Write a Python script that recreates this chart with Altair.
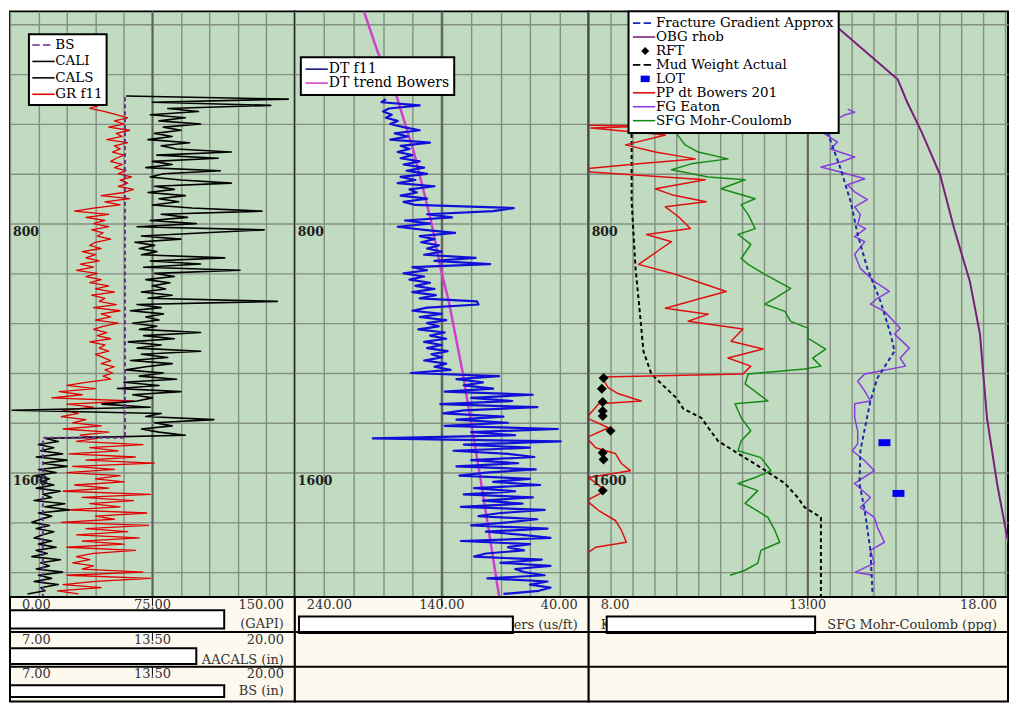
import altair as alt
import pandas as pd

# ------------------------------------------------------------------ data
DEPTH_DOMAIN = [118, 2000]
DEPTH_GRID = [160, 320, 480, 640, 800, 960, 1120, 1280, 1440, 1600, 1760, 1920]
DEPTH_LABELS = [800, 1600]

# ---- track 1 : gamma ray / calipers / bit size
GR_DOMAIN = [0, 150]
GR_GRID = [0, 15, 30, 45, 60, 75, 90, 105, 120, 135, 150]
GR_TICKS = [0, 75, 150]
CAL_DOMAIN = [7, 20]
CAL_TICKS = [7, 13.5, 20]
BS_TICKS = [7, 13.5, 20]

GR_START, GR_STEP = 420, 10
GR_VALUES = [47, 42, 50, 56, 62, 55, 60, 52,
             63, 56, 59, 51, 62, 55, 58, 54, 60, 56,
             53, 59, 55, 61, 57, 64, 58, 62, 57, 65,
             60, 48, 63, 50, 58, 44, 34, 52, 40, 50,
             44, 52, 43, 49, 46, 53, 45, 42, 48, 38,
             45, 40, 47, 37, 44, 35, 46, 40, 48, 42,
             52, 45, 55, 43, 50, 47, 56, 44, 58, 48,
             53, 45, 57, 49, 44, 51, 46, 53, 42, 50,
             47, 52, 45, 49, 53, 48, 55, 50, 54, 49,
             53, 40, 30, 45, 26, 38, 22, 65, 30, 44,
             28, 36, 27, 40, 33, 48, 28, 52, 37, 46,
             35, 70, 42, 57, 31, 66, 40, 76, 33, 55,
             30, 58, 45, 60, 34, 52, 28, 74, 38, 65,
             42, 58, 30, 72, 45, 55, 27, 73, 40, 62,
             35, 68, 38, 60, 30, 66, 44, 35, 42, 33,
             44, 38, 70, 30, 74, 45, 28, 48, 25, 36]

CALS_START, CALS_STEP = 390, 10
CALS_VALUES = [12.3, 19.7, 13.5, 18.9, 14.2, 15.6, 13.4, 15.0, 13.8, 15.7,
               14.0, 14.8, 13.6, 14.4, 13.3, 15.2, 13.9, 14.6, 17.1, 13.7,
               16.5, 13.5, 14.4, 13.2, 16.6, 14.0, 13.4, 14.8, 17.1, 13.6,
               14.5, 13.3, 15.0, 13.8, 14.7, 13.5, 15.3, 18.5, 13.9, 15.1,
               13.4, 15.5, 12.8, 18.6, 15.7, 13.0, 14.8, 12.7, 13.6, 12.9,
               13.7, 13.0, 16.8, 13.4, 15.7, 13.1, 17.5, 13.6, 14.5, 13.2,
               14.3, 13.5, 14.1, 13.0, 14.4, 13.3, 19.2, 12.8, 13.9, 12.5,
               14.0, 13.2, 13.8, 12.6, 13.7, 12.9, 15.7, 13.1, 14.5, 12.4,
               13.9, 12.8, 15.7, 13.0, 14.2, 12.5, 14.4, 13.2, 12.3, 14.0,
               12.9, 14.6, 12.2, 13.8, 11.9, 14.8, 12.6, 13.5, 12.8, 11.2,
               13.4, 7.1, 13.9, 13.2, 16.3, 13.6, 14.4, 13.0, 13.8, 15.0,
               8.6]

CALI_START, CALI_STEP = 1490, 10
CALI_VALUES = [8.6, 9.2, 8.3, 9.0, 8.4, 9.4, 8.2, 9.6, 8.5, 9.6,
               8.3, 9.1, 8.1, 8.8, 8.4, 9.0, 8.2, 9.3, 8.5, 8.9,
               8.1, 9.5, 8.6, 9.7, 8.3, 8.9, 8.4, 8.0, 8.8, 8.2,
               9.0, 8.5, 8.1, 8.9, 8.3, 9.1, 8.2, 8.7, 8.0, 9.3,
               8.4, 8.8, 8.2, 9.4, 8.3, 8.9, 8.1, 9.2, 8.4, 8.6,
               7.8]

BS_DEPTHS = [394, 1488, 1488, 2000]
BS_VALUES = [12.25, 12.25, 8.5, 8.5]

# ---- track 2 : sonic
DT_DOMAIN = [40, 240]
DT_GRID = [40, 60, 80, 100, 120, 140, 160, 180, 200, 220, 240]
DT_TICKS = [240, 140, 40]
DT_START, DT_STEP = 400, 10
DT_VALUES = [178, 181, 155, 176, 180, 174, 178, 170, 175, 166,
             155, 172, 163, 175, 148, 168, 162, 170, 160, 168,
             155, 166, 152, 164, 150, 168, 158, 170, 145, 162,
             157, 168, 150, 166, 158, 91, 105, 150, 133, 165,
             148, 170, 152, 131, 155, 145, 154, 142, 150, 140,
             152, 117, 145, 107, 160, 150, 166, 152, 162, 148,
             158, 145, 160, 144, 155, 116, 115, 150, 160, 140,
             155, 137, 150, 142, 156, 138, 148, 137, 152, 140,
             150, 136, 147, 140, 152, 137, 145, 134, 161, 101,
             130, 112, 125, 105, 138, 78, 120, 92, 141, 75,
             125, 139, 98, 130, 95, 138, 61, 120, 90, 187,
             59, 125, 80, 132, 95, 77, 120, 88, 130, 76,
             110, 128, 80, 105, 73, 118, 90, 125, 78, 112,
             85, 127, 70, 100, 115, 75, 95, 120, 68, 110,
             85, 66, 127, 80, 95, 84, 110, 118, 72, 100,
             66, 90, 84, 70, 109, 68, 80, 66, 74, 98]
DTN_DEPTHS = [118, 250, 362, 570, 787, 960, 1050, 1280, 1587, 1786, 2000]
DTN_VALUES = [193.0, 183.5, 172.6, 159.0, 147.5, 140.0, 135.2, 125.7, 114.8, 108.0, 100.9]

# ---- track 3 : pressures (ppg); the picture is cut just short of 18
PG_DOMAIN = [8, 17.57]
PG_GRID = [8, 8.5, 9, 9.5, 10, 10.5, 11, 11.5, 12, 12.5, 13,
           13.5, 14, 14.5, 15, 15.5, 16, 16.5, 17, 17.5]
PG_TICKS = [8, 13, 18]

OBG_DEPTHS = [118, 170, 336, 410, 506, 643, 816, 986, 1155, 1424, 1635, 1808, 1898, 2000]
OBG_VALUES = [13.15, 13.68, 15.05, 15.27, 15.6, 16.02, 16.34, 16.70, 16.93, 17.09, 17.32, 17.55, 17.73, 17.93]

FGA_DEPTHS = [506, 624, 730, 835, 944, 1050, 1155, 1210, 1296, 1370, 1530, 1635, 1722, 1850, 1994]
FGA_VALUES = [13.45, 13.75, 13.98, 14.14, 14.36, 14.66, 14.89, 14.98, 14.59, 14.43, 14.20, 14.18, 14.30, 14.43, 14.48]

FGE_DEPTHS = [432, 442, 451, 458, 496, 509, 538, 560, 586, 602,
              618, 634, 656, 675, 698, 723, 746, 771, 803, 816,
              842, 858, 899, 944, 986, 1018, 1040, 1059, 1082, 1136,
              1155, 1200, 1232, 1258, 1283, 1306, 1338, 1370, 1379, 1424,
              1466, 1507, 1530, 1562, 1594, 1635, 1680, 1712, 1744, 1776,
              1824, 1850, 1891, 1920, 1930]
FGE_VALUES = [13.91, 14.07, 13.84, 13.75, 13.16, 13.36, 13.68, 13.52, 14.07, 13.75,
              13.30, 13.75, 14.30, 13.91, 14.07, 14.36, 14.07, 14.20, 14.14, 14.32,
              14.07, 14.30, 14.07, 14.20, 14.52, 14.86, 14.59, 14.43, 14.75, 15.11,
              14.98, 15.32, 15.11, 15.23, 14.30, 14.14, 14.30, 14.43, 14.07, 14.07,
              14.14, 14.14, 14.02, 14.30, 14.52, 14.07, 14.43, 14.20, 14.52, 14.59,
              14.75, 14.43, 14.52, 14.09, 14.48]

PP_DEPTHS = [484, 486, 493, 515, 547, 570, 592, 608, 624, 634, 659,
             688, 707, 730, 746, 778, 816, 835, 858, 880, 931,
             963, 1018, 1040, 1072, 1091, 1114, 1139, 1178, 1203, 1232,
             1258, 1283, 1293, 1328, 1347, 1370, 1379, 1424, 1456, 1488,
             1520, 1539, 1571, 1594, 1616, 1658, 1690, 1722, 1754, 1786,
             1824, 1840, 1866]
PP_VALUES = [7.9, 9.48, 8.05, 9.75, 8.84, 9.52, 10.43, 9.14, 7.9, 8.05, 10.66,
             9.52, 9.89, 10.68, 9.75, 10.05, 10.32, 9.32, 9.89, 9.66, 9.14,
             9.98, 11.14, 10.57, 9.75, 10.73, 10.27, 11.52, 11.25, 11.98, 11.18,
             11.70, 11.52, 8.30, 8.45, 8.68, 9.20, 8.23, 7.95, 8.45, 7.95,
             8.16, 8.61, 8.75, 8.95, 8.0, 8.39, 7.95, 8.23, 8.61, 8.75,
             8.86, 8.16, 7.9]

SFG_DEPTHS = [496, 506, 547, 570, 592, 608, 627, 650, 659, 688,
              720, 739, 771, 816, 835, 867, 912, 931, 963, 1008,
              1040, 1059, 1082, 1114, 1136, 1168, 1203, 1232, 1258, 1267,
              1283, 1315, 1370, 1379, 1424, 1466, 1498, 1530, 1552, 1594,
              1616, 1635, 1658, 1699, 1744, 1786, 1824, 1850, 1891, 1914,
              1930]
SFG_VALUES = [9.52, 9.98, 10.20, 10.50, 11.18, 10.34, 9.89, 10.73, 11.57, 11.02,
              11.80, 11.48, 11.64, 11.80, 11.41, 11.70, 11.48, 11.64, 12.02, 12.61,
              12.25, 12.02, 12.48, 12.61, 13.0, 13.0, 13.41, 13.11, 13.30, 12.93,
              11.64, 11.57, 12.09, 11.34, 11.48, 11.70, 11.48, 11.41, 11.93, 12.16,
              11.80, 11.41, 11.86, 11.57, 12.09, 12.25, 12.36, 11.93, 11.86, 11.57,
              11.23]

MW_DEPTHS = [490, 730, 944, 1104, 1210, 1283, 1315, 1360, 1395, 1424,
             1456, 1498, 1539, 1584, 1635, 1680, 1712, 1744, 2000]
MW_VALUES = [8.98, 8.98, 9.07, 9.18, 9.25, 9.43, 9.66, 10.0, 10.16, 10.57,
             10.73, 10.95, 11.41, 11.93, 12.48, 12.77, 12.93, 13.30, 13.30]

RFT_DEPTHS = [1296, 1331, 1373, 1402, 1418, 1466, 1536, 1558, 1658]
RFT_VALUES = [8.34, 8.30, 8.32, 8.32, 8.32, 8.50, 8.32, 8.34, 8.32]
LOT_DEPTHS = [1504, 1667]
LOT_VALUES = [14.75, 15.07]

# legends
T1_NAMES = ["BS", "CALI", "CALS", "GR f11"]
T2_NAMES = ["DT f11", "DT trend Bowers"]
T3_NAMES = ["Fracture Gradient Approx", "OBG rhob", "RFT", "Mud Weight Actual",
            "LOT", "PP dt Bowers 201", "FG Eaton", "SFG Mohr-Coulomb"]

# ------------------------------------------------------------------ styles
SERIF = "DejaVu Serif"
PLOT_BG = "#c1dbc1"
HEAD_BG = "#fdf9ee"
GRID_COLOR = "#838e83"
CENTER_COLOR = "#606060"
HEAD_TEXT = "#333333"
W1, W2, W3 = 286, 295, 421
PLOT_H = 588
HEAD_H = 105

C_BS = "#6a2f8f"
C_GR = "#e00000"
C_DT = "#1010d8"
C_DTN = "#d040d0"
C_FGA = "#1c2bb0"
C_OBG = "#7a1f7a"
C_LOT = "#0000ee"
C_PP = "#e01010"
C_FGE = "#8a3ae0"
C_SFG = "#168a16"

LINE_SYM = "M-1.9,-0.12L1.55,-0.12L1.55,0.12L-1.9,0.12Z"
DASH_SYM = ("M-1.9,-0.13L-0.75,-0.13L-0.75,0.13L-1.9,0.13Z "
            "M-0.25,-0.13L0.9,-0.13L0.9,0.13L-0.25,0.13Z")
DIAMOND_SYM = "M0,-0.62L0.62,0L0,0.62L-0.62,0Z"
SQUARE_SYM = "M-0.7,-0.5L0.7,-0.5L0.7,0.5L-0.7,0.5Z"
LOT_MARK = "M-1,-0.58L1,-0.58L1,0.58L-1,0.58Z"
RFT_MARK = "M0,-1L1,0L0,1L-1,0Z"


# ------------------------------------------------------------------ helpers
def seq(start, step, values):
    return [start + step * i for i in range(len(values))]


def yenc():
    return alt.Y("depth:Q",
                 scale=alt.Scale(domain=DEPTH_DOMAIN, reverse=True, nice=False, zero=False),
                 axis=alt.Axis(values=DEPTH_GRID, grid=True, gridColor=GRID_COLOR, gridWidth=1.4,
                               labels=False, ticks=False, domain=False, title=None,
                               orient="left", minExtent=0, maxExtent=0))


def xenc(field, domain, reverse=False, axis=None):
    return alt.X(f"{field}:Q",
                 scale=alt.Scale(domain=domain, reverse=reverse, nice=False, zero=False),
                 axis=axis)


def curve(depths, values, domain, color, width, reverse=False, dash=None):
    df = pd.DataFrame({"depth": depths, "value": values, "i": list(range(len(values)))})
    kw = dict(color=color, strokeWidth=width, clip=True, strokeJoin="round")
    if dash is not None:
        kw["strokeDash"] = dash
    return alt.Chart(df).mark_line(**kw).encode(
        x=xenc("value", domain, reverse), y=yenc(), order="i:Q")


def grid_layer(domain, grid_values, center, reverse=False):
    df = pd.DataFrame({"c": [center]})
    ax = alt.Axis(values=grid_values, grid=True, gridColor=GRID_COLOR, gridWidth=1.4,
                  labels=False, ticks=False, domain=False, title=None,
                  orient="bottom", minExtent=0, maxExtent=0)
    return alt.Chart(df).mark_rule(color=CENTER_COLOR, strokeWidth=2).encode(
        x=xenc("c", domain, reverse, ax))


def depth_label_layer(domain, left_value, reverse=False):
    df = pd.DataFrame({"depth": DEPTH_LABELS,
                       "label": [str(d) for d in DEPTH_LABELS],
                       "x": [left_value] * len(DEPTH_LABELS)})
    return alt.Chart(df).mark_text(align="left", baseline="top", dx=3, dy=2,
                                   font="DejaVu Serif", fontWeight="bold", fontSize=12.5,
                                   color="#1e1e1e").encode(
        x=xenc("x", domain, reverse), y=yenc(), text="label:N")


def legend_layer(names, colors, shapes, domain, lx, ly, font_size, row_pad, pad):
    df = pd.DataFrame({"series": names, "v": [None] * len(names), "depth": [None] * len(names)})
    leg = alt.Legend(title=None, orient="none", legendX=lx, legendY=ly, padding=pad,
                     labelFontSize=font_size, rowPadding=row_pad, symbolSize=169)
    return alt.Chart(df).transform_filter("datum.v != null").mark_point(
        filled=True, opacity=1, size=169, strokeWidth=0).encode(
        x=xenc("v", domain),
        y=yenc(),
        color=alt.Color("series:N", scale=alt.Scale(domain=names, range=colors), legend=leg),
        shape=alt.Shape("series:N", scale=alt.Scale(domain=names, range=shapes), legend=leg),
    )


def track(width, layers):
    return alt.layer(*layers).resolve_scale(x="independent").properties(
        width=width, height=PLOT_H,
        view=alt.ViewBackground(fill=PLOT_BG, stroke="black", strokeWidth=2))


def header(width, tick_rows, titles, boxes):
    xs = alt.Scale(domain=[0, 1], nice=False, zero=False)
    ys = alt.Scale(domain=[0, 3], reverse=True, nice=False, zero=False)

    def X(f):
        return alt.X(f"{f}:Q", scale=xs, axis=None)

    def Y(f):
        return alt.Y(f"{f}:Q", scale=ys, axis=None)

    rows = []
    for r, ticks, left, right in tick_rows:
        for v, pos in zip(ticks, ["left", "center", "right"]):
            frac = min(1.0, max(0.0, (v - left) / (right - left)))
            rows.append({"fx": frac, "fy": r + 0.05, "text": f"{v:.2f}", "pos": pos})
    lab = pd.DataFrame(rows)
    layers = []
    tdf = pd.DataFrame(titles, columns=["text", "fx", "fy", "pos"])
    for pos, dx in (("left", 12), ("right", -11)):
        sub = tdf[tdf["pos"] == pos]
        if len(sub):
            layers.append(alt.Chart(sub).mark_text(
                align=pos, baseline="middle", dx=dx, font=SERIF, fontSize=13,
                color=HEAD_TEXT).encode(x=X("fx"), y=Y("fy"), text="text:N"))
    bdf = pd.DataFrame(boxes, columns=["x0", "x1", "y0", "y1"])
    layers.append(alt.Chart(bdf).mark_rect(fill="white", stroke="black", strokeWidth=2).encode(
        x=X("x0"), x2="x1", y=Y("y0"), y2="y1"))
    for pos, dx in (("left", 12), ("center", 0), ("right", -11)):
        sub = lab[lab["pos"] == pos]
        layers.append(alt.Chart(sub).mark_text(
            align=pos, baseline="top", dx=dx, font=SERIF, fontSize=13,
            color=HEAD_TEXT).encode(x=X("fx"), y=Y("fy"), text="text:N"))
    cdf = pd.DataFrame({"fx": [min(1.0, (t[1][1] - t[2]) / (t[3] - t[2])) for t in tick_rows],
                        "y0": [t[0] for t in tick_rows],
                        "y1": [t[0] + 0.26 for t in tick_rows]})
    layers.append(alt.Chart(cdf).mark_rule(color="black", strokeWidth=1).encode(
        x=X("fx"), y=Y("y0"), y2="y1"))
    sdf = pd.DataFrame({"fy": [1, 2]})
    layers.append(alt.Chart(sdf).mark_rule(color="black", strokeWidth=2).encode(y=Y("fy")))
    return alt.layer(*layers).properties(
        width=width, height=HEAD_H,
        view=alt.ViewBackground(fill=HEAD_BG, stroke="black", strokeWidth=2))


# ------------------------------------------------------------------ tracks
t1 = track(W1, [
    grid_layer(GR_DOMAIN, GR_GRID, 75),
    curve(seq(GR_START, GR_STEP, GR_VALUES), GR_VALUES, GR_DOMAIN, C_GR, 1.3),
    curve(seq(CALS_START, CALS_STEP, CALS_VALUES), CALS_VALUES, CAL_DOMAIN, "black", 1.6),
    curve(seq(CALI_START, CALI_STEP, CALI_VALUES), CALI_VALUES, CAL_DOMAIN, "black", 1.6),
    curve(BS_DEPTHS, BS_VALUES, CAL_DOMAIN, C_BS, 2, dash=[4, 3]),
    depth_label_layer(GR_DOMAIN, 0),
    legend_layer(T1_NAMES, [C_BS, "black", "black", C_GR],
                 [DASH_SYM, LINE_SYM, LINE_SYM, LINE_SYM], GR_DOMAIN, 19, 23, 13.5, 1.5, 4),
])

t2 = track(W2, [
    grid_layer(DT_DOMAIN, DT_GRID, 140, reverse=True),
    curve(DTN_DEPTHS, DTN_VALUES, DT_DOMAIN, C_DTN, 2.5, reverse=True),
    curve(seq(DT_START, DT_STEP, DT_VALUES), DT_VALUES, DT_DOMAIN, C_DT, 2.2, reverse=True),
    depth_label_layer(DT_DOMAIN, 240, reverse=True),
    legend_layer(T2_NAMES, ["#101080", C_DTN], [LINE_SYM, LINE_SYM], DT_DOMAIN, 6, 46, 14, -2, 5),
])

rft = alt.Chart(pd.DataFrame({"depth": RFT_DEPTHS, "value": RFT_VALUES})).mark_point(
    shape=RFT_MARK, filled=True, color="black", opacity=1, size=100, strokeWidth=0).encode(
    x=xenc("value", PG_DOMAIN), y=yenc())
lot = alt.Chart(pd.DataFrame({"depth": LOT_DEPTHS, "value": LOT_VALUES})).mark_point(
    shape=LOT_MARK, filled=True, color=C_LOT, opacity=1, size=144, strokeWidth=0).encode(
    x=xenc("value", PG_DOMAIN), y=yenc())

t3 = track(W3, [
    grid_layer(PG_DOMAIN, PG_GRID, 13),
    curve(OBG_DEPTHS, OBG_VALUES, PG_DOMAIN, C_OBG, 2),
    curve(MW_DEPTHS, MW_VALUES, PG_DOMAIN, "black", 2, dash=[4, 3]),
    curve(PP_DEPTHS, PP_VALUES, PG_DOMAIN, C_PP, 1.5),
    curve(SFG_DEPTHS, SFG_VALUES, PG_DOMAIN, C_SFG, 1.5),
    curve(FGE_DEPTHS, FGE_VALUES, PG_DOMAIN, C_FGE, 1.5),
    curve(FGA_DEPTHS, FGA_VALUES, PG_DOMAIN, C_FGA, 2, dash=[4, 3]),
    rft, lot,
    depth_label_layer(PG_DOMAIN, 8),
    legend_layer(T3_NAMES, [C_FGA, C_OBG, "black", "black", C_LOT, C_PP, C_FGE, C_SFG],
                 [DASH_SYM, LINE_SYM, DIAMOND_SYM, DASH_SYM, SQUARE_SYM, LINE_SYM, LINE_SYM, LINE_SYM],
                 PG_DOMAIN, 40, 0, 13.5, -1.8, 5),
])

# ------------------------------------------------------------------ headers
h1 = header(W1,
            [(0, GR_TICKS, GR_DOMAIN[0], GR_DOMAIN[1]),
             (1, CAL_TICKS, CAL_DOMAIN[0], CAL_DOMAIN[1]),
             (2, BS_TICKS, CAL_DOMAIN[0], CAL_DOMAIN[1])],
            [("(GAPI)", 1, 0.76, "right"),
             ("AACALS (in)", 1, 1.8, "right"),
             ("BS (in)", 1, 2.7, "right")],
            [(0, 0.752, 0.38, 0.9), (0, 0.654, 1.47, 1.92), (0, 0.752, 2.53, 2.87)])
h2 = header(W2,
            [(0, DT_TICKS, DT_DOMAIN[1], DT_DOMAIN[0])],
            [("DT trend Bowers (us/ft)", 1, 0.8, "right")],
            [(0.014, 0.742, 0.56, 1.03)])
h3 = header(W3,
            [(0, PG_TICKS, PG_DOMAIN[0], PG_DOMAIN[1])],
            [("K", 0, 0.8, "left"), ("SFG Mohr-Coulomb (ppg)", 1, 0.8, "right")],
            [(0.043, 0.54, 0.56, 1.03)])

chart = alt.concat(t1, t2, t3, h1, h2, h3, columns=3, spacing=0, bounds="flush").resolve_scale(
    color="independent", shape="independent"
).properties(padding=0, background="white").configure_view(
    stroke="black", strokeWidth=2
).configure_legend(
    strokeColor="black", strokeWidth=2, fillColor="white", labelFont=SERIF,
    labelColor="black", symbolStrokeWidth=0, labelLimit=400, symbolOffset=5, labelOffset=4
)

chart.save("out.html", embed_options={"renderer": "svg", "actions": False})
